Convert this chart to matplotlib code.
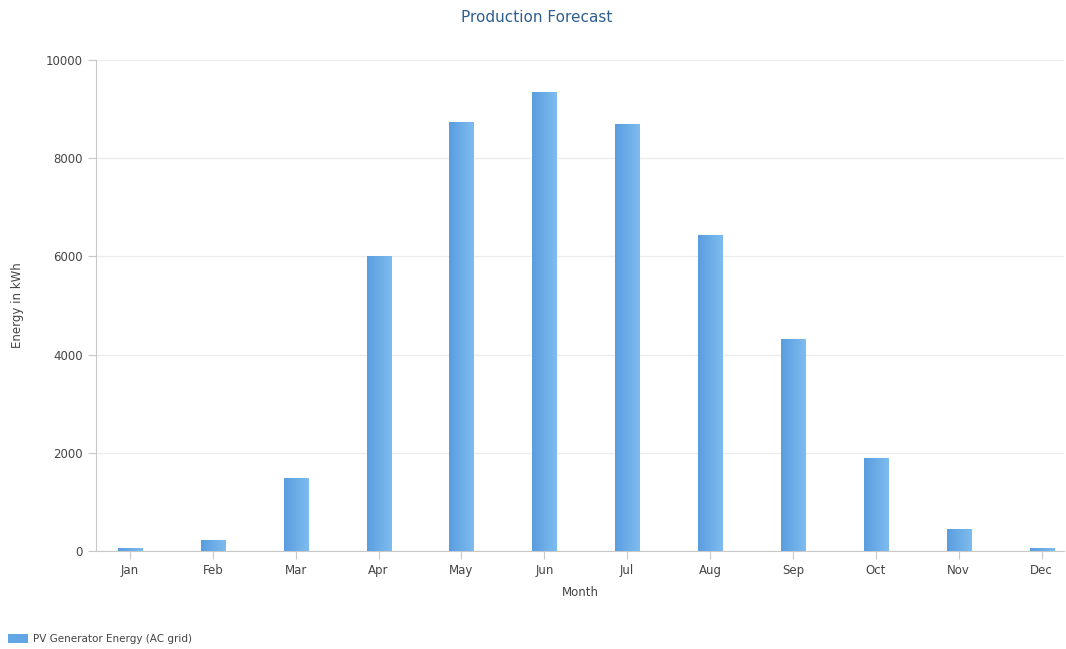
import numpy as np
import matplotlib
matplotlib.use("Agg")
import matplotlib.pyplot as plt
from matplotlib.colors import LinearSegmentedColormap
from matplotlib.patches import Rectangle

months = ["Jan", "Feb", "Mar", "Apr", "May", "Jun",
          "Jul", "Aug", "Sep", "Oct", "Nov", "Dec"]
energy = [60, 220, 1490, 6010, 8740, 9350, 8700, 6440, 4320, 1890, 450, 60]
y_ticks = [0, 2000, 4000, 6000, 8000, 10000]

W, H = 1066, 649
fig = plt.figure(figsize=(W / 100, H / 100), dpi=100)
ax = fig.add_axes([96 / W, 1 - 551 / H, (1064 - 96) / W, (551 - 60) / H])

grad = LinearSegmentedColormap.from_list("bar", ["#5a9de0", "#7ebcef"])
x = np.arange(len(months))
bw = 0.29
bars = ax.bar(x, energy, width=bw, color="#6aaee8", edgecolor="none", zorder=2)
g = np.linspace(0, 1, 64).reshape(1, -1)
for b in bars:
    x0, w, h = b.get_x(), b.get_width(), b.get_height()
    im = ax.imshow(g, cmap=grad, extent=[x0, x0 + w, 0, h], aspect="auto",
                   zorder=3, interpolation="bilinear")
    im.set_clip_path(b)

ax.set_xlim(-0.41, 11.27)
ax.set_ylim(0, 10000)
ax.set_xticks(x)
ax.set_xticklabels(months)
ax.set_yticks(y_ticks)
ax.yaxis.grid(True, color="#ececec", linewidth=1, zorder=0)
ax.set_axisbelow(True)

for s in ["top", "right"]:
    ax.spines[s].set_visible(False)
for s in ["left", "bottom"]:
    ax.spines[s].set_color("#c8c8c8")
ax.tick_params(colors="#c8c8c8", labelcolor="#444444", labelsize=8.5, length=6)

ax.set_xlabel("Month", fontsize=8.5, color="#444444", labelpad=6)
fig.text(18 / W, 1 - 305 / H, "Energy in kWh", rotation=90, fontsize=8.5,
         color="#444444", ha="center", va="center")
fig.text(537 / W, 1 - 18 / H, "Production Forecast", fontsize=11,
         color="#2f5f8f", ha="center", va="center")

fig.patches.append(Rectangle((8 / W, 1 - 643 / H), 20 / W, 9 / H,
                             transform=fig.transFigure, facecolor="#63a6e6",
                             edgecolor="none"))
fig.text(33 / W, 1 - 639 / H, "PV Generator Energy (AC grid)", fontsize=7.5,
         color="#444444", ha="left", va="center")

fig.savefig("out.png", dpi=100)
